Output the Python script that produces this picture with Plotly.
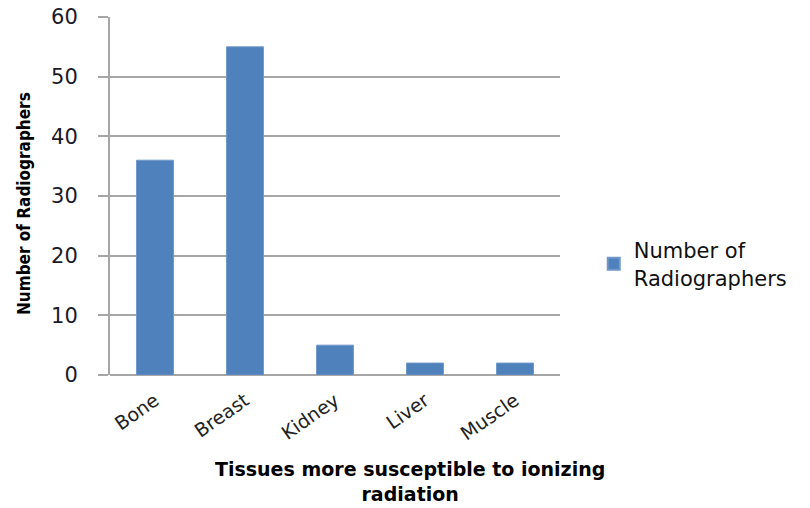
import plotly.graph_objects as go

categories = ["Bone", "Breast", "Kidney", "Liver", "Muscle"]
values = [36, 55, 5, 2, 2]
y_ticks = [0, 10, 20, 30, 40, 50, 60]
series_name = "Number of<br>Radiographers"
x_title = "Tissues more susceptible to ionizing<br>radiation"
y_title = "Number of Radiographers"

fig = go.Figure()
fig.add_trace(go.Bar(
    x=categories, y=values, name=series_name,
    marker=dict(color="#4F81BD", line=dict(color="#6F97C8", width=1)),
    showlegend=True,
))

fig.update_layout(
    width=810, height=508,
    margin=dict(l=110, r=250, t=17, b=133, autoexpand=False),
    paper_bgcolor="white", plot_bgcolor="white",
    bargap=0.59,
    font=dict(family="DejaVu Sans", color="#1a1a1a"),
    showlegend=True,
    legend=dict(x=1.075, y=0.31, xanchor="left", yanchor="middle",
                font=dict(family="DejaVu Sans", size=21, color="#111111"),
                bgcolor="rgba(0,0,0,0)", itemsizing="constant"),
    xaxis=dict(
        automargin=False,
        showline=False, ticks="", tickangle=-35,
        tickfont=dict(family="DejaVu Sans", size=19, color="#222222"),
        ticklabelstandoff=10,
        showgrid=False,
    ),
    yaxis=dict(
        automargin=False,
        range=[0, 60], tickvals=y_ticks,
        showline=True, linecolor="#A6A6A6", linewidth=2,
        ticks="outside", ticklen=10, tickcolor="#A6A6A6", tickwidth=2,
        showgrid=True, gridcolor="#A6A6A6", gridwidth=1.5,
        zeroline=True, zerolinecolor="#A6A6A6", zerolinewidth=2,
        tickfont=dict(family="DejaVu Sans", size=21, color="#1a1a2a"),
        ticklabelstandoff=16,
    ),
    annotations=[
        dict(text="<b>" + x_title + "</b>", xref="paper", yref="paper",
             x=(410 - 110) / 450, y=-(456 - 375) / 358, xanchor="center", yanchor="top",
             showarrow=False, align="center",
             font=dict(family="DejaVu Sans", size=19, color="#000000")),
        dict(text="<b>" + y_title + "</b>", xref="paper", yref="paper",
             x=-(110 - 24) / 450, y=(375 - 204) / 358, xanchor="center", yanchor="middle",
             textangle=-90, showarrow=False,
             font=dict(family="DejaVu Sans Condensed", size=17, color="#000000")),
    ],
)

fig.write_html("out.html")
